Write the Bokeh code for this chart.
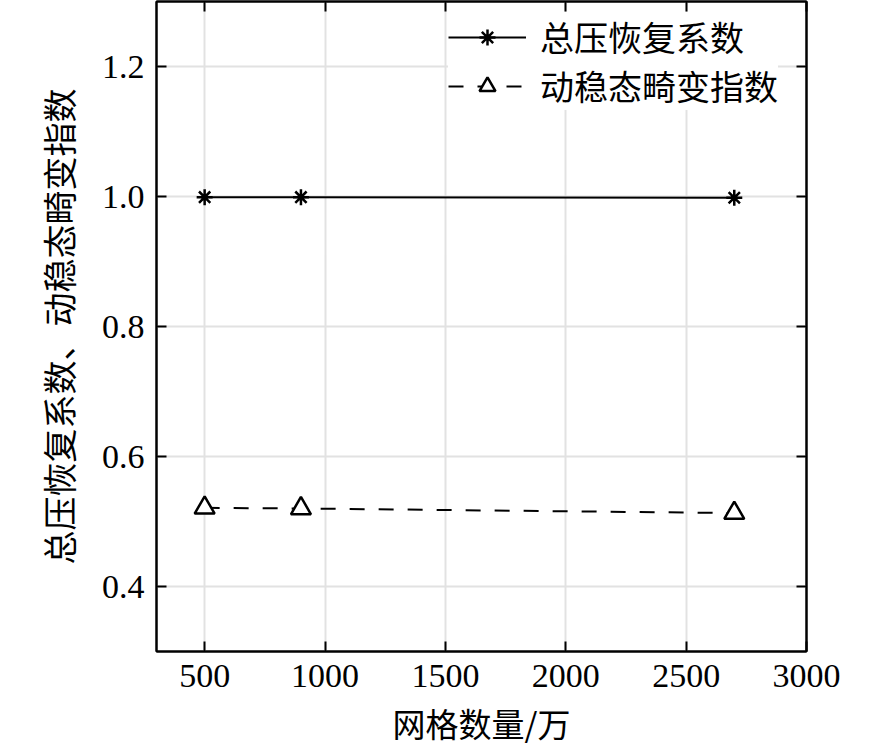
from bokeh.plotting import figure
from bokeh.models import LinearAxis, Range1d, FixedTicker, Legend, LegendItem
from bokeh.embed import file_html
from bokeh.resources import INLINE

# ---- data ----
grid_cells = [500, 900, 2700]
pressure_recovery = [0.999, 0.999, 0.998]
distortion_index = [0.521, 0.520, 0.513]
x_ticks = [500, 1000, 1500, 2000, 2500, 3000]
x_tick_labels = ["500", "1000", "1500", "2000", "2500", "3000"]
y_ticks = [0.4, 0.6, 0.8, 1.0, 1.2]
y_tick_labels = ["0.4", "0.6", "0.8", "1.0", "1.2"]
series_names = ["总压恢复系数", "动稳态畸变指数"]
x_title = "网格数量/万"
y_title = "总压恢复系数、动稳态畸变指数"

NUM_FONT = "Liberation Serif"
CJK_FONT = "Noto Sans CJK SC"

p = figure(width=886, height=751, output_backend="svg", toolbar_location=None,
           x_range=Range1d(300, 3000), y_range=Range1d(0.3, 1.3),
           min_border_left=156, min_border_right=80, min_border_top=1,
           min_border_bottom=100)

p.outline_line_color = "black"
p.outline_line_width = 2
p.background_fill_color = "white"
p.border_fill_color = "white"

# grid
for g in (p.xgrid, p.ygrid):
    g.grid_line_color = "#e2e2e2"
    g.grid_line_width = 2
p.xgrid.ticker = FixedTicker(ticks=x_ticks)
p.ygrid.ticker = FixedTicker(ticks=y_ticks)

def style_axis(ax, ticks, labels, show_labels=True):
    ax.ticker = FixedTicker(ticks=ticks)
    ax.axis_line_color = "black"
    ax.axis_line_width = 2
    ax.major_tick_in = 10
    ax.major_tick_out = 0
    ax.major_tick_line_width = 2
    ax.major_tick_line_color = "black"
    ax.minor_tick_line_color = None
    ax.major_label_text_font = NUM_FONT
    if show_labels:
        ax.major_label_overrides = {t: l for t, l in zip(ticks, labels)}
        ax.major_label_text_font_size = "34px"
        ax.major_label_text_color = "black"
    else:
        ax.major_label_text_font_size = "1px"
        ax.major_label_text_color = None
        ax.major_label_standoff = 0

style_axis(p.xaxis[0], x_ticks, x_tick_labels)
style_axis(p.yaxis[0], y_ticks, y_tick_labels)
p.xaxis[0].major_label_standoff = 13
p.yaxis[0].major_label_standoff = 12

p.xaxis[0].axis_label = x_title
p.yaxis[0].axis_label = y_title
for ax in (p.xaxis[0], p.yaxis[0]):
    ax.axis_label_text_font = CJK_FONT
    ax.axis_label_text_font_style = "normal"
    ax.axis_label_text_color = "black"
p.xaxis[0].axis_label_text_font_size = "33px"
p.yaxis[0].axis_label_text_font_size = "34px"
p.xaxis[0].axis_label_standoff = 9
p.yaxis[0].axis_label_standoff = 16

top_ax = LinearAxis()
right_ax = LinearAxis()
style_axis(top_ax, x_ticks, x_tick_labels, show_labels=False)
style_axis(right_ax, y_ticks, y_tick_labels, show_labels=False)
p.add_layout(top_ax, "above")
p.add_layout(right_ax, "right")

# series
l1 = p.line(grid_cells, pressure_recovery, line_color="black", line_width=2)
m1 = p.scatter(grid_cells, pressure_recovery, marker="asterisk", size=16,
               line_color="black", line_width=2.5)
l2 = p.line(grid_cells, distortion_index, line_color="black", line_width=2,
            line_dash="15 14")
m2 = p.scatter(grid_cells, distortion_index, marker="triangle", size=20,
               line_color="black", fill_color="white", line_width=2.5)

legend = Legend(items=[
    LegendItem(label=series_names[0], renderers=[l1, m1]),
    LegendItem(label=series_names[1], renderers=[l2, m2]),
], location=(292, 541))
legend.label_text_font = CJK_FONT
legend.label_text_font_size = "34px"
legend.label_text_color = "black"
legend.glyph_width = 78
legend.glyph_height = 40
legend.label_height = 40
legend.label_standoff = 14
legend.spacing = 0
legend.padding = 6
legend.margin = 0
legend.border_line_color = None
legend.background_fill_color = "white"
legend.background_fill_alpha = 1.0
p.add_layout(legend, "center")

open("out.html", "w").write(file_html(p, INLINE))
